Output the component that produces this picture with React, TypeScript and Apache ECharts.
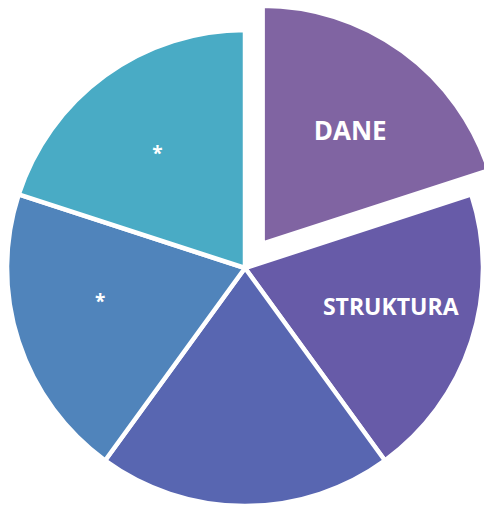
import React, { useEffect, useRef } from "react";
import * as echarts from "echarts";

const categories = ["DANE", "STRUKTURA", "", "*", "*"];
const values = [1, 1, 1, 1, 1];
const colors = ["#8064A2", "#675BA8", "#5866B1", "#5084BB", "#49ABC5"];
const labelSizes = [26, 23, 18, 19, 19];
const labelShiftX = [0, 4, 0, -3, 0];
const labelShiftY = [7, -8, 0, -13, 6];
const explodedIndex = 0;

export default function App() {
  const ref = useRef<HTMLDivElement>(null);
  useEffect(() => {
    if (!ref.current) return;
    const chart = echarts.init(ref.current, null, { renderer: "svg" });
    const shapeData = categories.map((name, i) => ({
      name,
      value: values[i],
      selected: i === explodedIndex,
      itemStyle: { color: colors[i] },
      select: { itemStyle: { color: colors[i], borderColor: "#fff", borderWidth: 4.5 } },
    }));
    const labelData = categories.map((name, i) => ({
      name,
      value: values[i],
      selected: i === explodedIndex,
      label: { fontSize: labelSizes[i] },
      select: { label: { fontSize: labelSizes[i] } },
    }));
    chart.setOption({
      animation: false,
      series: [
        {
          type: "pie",
          center: [245, 268],
          radius: [0, 238],
          startAngle: 90,
          clockwise: true,
          selectedMode: "single",
          selectedOffset: 30,
          silent: true,
          label: { show: false },
          labelLine: { show: false },
          itemStyle: { borderColor: "#ffffff", borderWidth: 4.5 },
          emphasis: { disabled: true },
          data: shapeData,
        },
        {
          type: "pie",
          center: [245, 268],
          radius: [0, 292],
          startAngle: 90,
          clockwise: true,
          selectedMode: "single",
          selectedOffset: 30,
          silent: true,
          itemStyle: { color: "rgba(0,0,0,0)", borderWidth: 0 },
          select: { itemStyle: { color: "rgba(0,0,0,0)", borderWidth: 0 } },
          emphasis: { disabled: true },
          labelLine: { show: false },
          label: {
            show: true,
            position: "inside",
            color: "#ffffff",
            fontWeight: "bold",
            fontFamily: "Open Sans",
            formatter: "{b}",
          },
          labelLayout: (p: any) => ({ dx: labelShiftX[p.dataIndex], dy: labelShiftY[p.dataIndex] }),
          data: labelData,
        },
      ],
    });
    return () => chart.dispose();
  }, []);
  return (
    <div
      ref={ref}
      style={{ position: "fixed", left: 0, top: 0, width: 484, height: 505, background: "#fff" }}
    />
  );
}
